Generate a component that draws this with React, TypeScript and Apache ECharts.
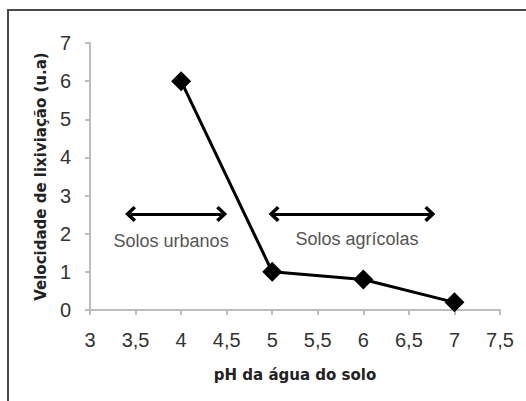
import React, { useEffect, useRef } from "react";
import * as echarts from "echarts";

const phValues = [4, 5, 6, 7];
const leachRates = [6, 1, 0.8, 0.2];
const urbanRange = [3.445, 4.445];
const agriRange = [5.02, 6.73];
const arrowLevel = 2.52;
const annotations = [
  { text: "Solos urbanos", x: 3.89, y: 1.82 },
  { text: "Solos agrícolas", x: 5.93, y: 1.87 },
];

const chevron = "path://M0,10 L10,0 L20,10 L17,13 L10,6 L3,13 Z";

export default function App() {
  const ref = useRef<HTMLDivElement>(null);
  useEffect(() => {
    if (!ref.current) return;
    const chart = echarts.init(ref.current, undefined, { renderer: "svg" });
    const font = "'Liberation Sans', Arial, sans-serif";
    const titleFont = "'DejaVu Sans', sans-serif";
    const arrowLine = (r: number[]) => [
      { coord: [r[0], arrowLevel] },
      { coord: [r[1], arrowLevel] },
    ];
    chart.setOption({
      animation: false,
      backgroundColor: "#fff",
      grid: { left: 90, right: 26, top: 43, bottom: 91 },
      graphic: [
        {
          type: "rect",
          shape: { x: 8, y: 10, width: 560, height: 420 },
          style: { fill: "none", stroke: "#4a4a4a", lineWidth: 2 },
          silent: true,
        },
      ],
      xAxis: {
        type: "value",
        min: 3,
        max: 7.5,
        interval: 0.5,
        name: "pH da água do solo",
        nameLocation: "middle",
        nameGap: 57,
        nameTextStyle: { fontFamily: titleFont, fontWeight: "bold", fontSize: 15, color: "#222" },
        axisLine: { lineStyle: { color: "#bdbdbd", width: 2 } },
        axisTick: { show: true, length: 5, lineStyle: { color: "#bdbdbd", width: 2 } },
        splitLine: { show: false },
        axisLabel: {
          margin: 20,
          fontFamily: font,
          fontSize: 20,
          color: "#333",
          formatter: (v: number) => String(v).replace(".", ","),
        },
      },
      yAxis: {
        type: "value",
        min: 0,
        max: 7,
        interval: 1,
        name: "Velocidade de lixiviação (u.a)",
        nameLocation: "middle",
        nameGap: 42,
        nameTextStyle: { fontFamily: titleFont, fontWeight: "bold", fontSize: 15, color: "#222" },
        axisLine: { show: true, lineStyle: { color: "#bdbdbd", width: 2 } },
        axisTick: { show: true, length: 5, lineStyle: { color: "#bdbdbd", width: 2 } },
        splitLine: { show: false },
        axisLabel: { margin: 19, fontFamily: font, fontSize: 20, color: "#333" },
      },
      series: [
        {
          type: "line",
          data: phValues.map((x, i) => [x, leachRates[i]]),
          symbol: "diamond",
          symbolSize: 20,
          itemStyle: { color: "#000" },
          lineStyle: { color: "#000", width: 3 },
          markLine: {
            silent: true,
            symbol: [chevron, chevron],
            symbolSize: [16, 11],
            lineStyle: { color: "#000", width: 3, type: "solid" },
            label: { show: false },
            data: [arrowLine(urbanRange), arrowLine(agriRange)],
          },
          markPoint: {
            silent: true,
            symbol: "circle",
            symbolSize: 0,
            label: {
              show: true,
              position: "inside",
              fontFamily: font,
              fontSize: 18,
              color: "#555",
              formatter: (p: any) => p.name,
            },
            data: annotations.map((a) => ({ name: a.text, coord: [a.x, a.y] })),
          },
        },
      ],
    });
    return () => chart.dispose();
  }, []);
  return (
    <div
      ref={ref}
      style={{ position: "fixed", left: 0, top: 0, width: 526, height: 401 }}
    />
  );
}
